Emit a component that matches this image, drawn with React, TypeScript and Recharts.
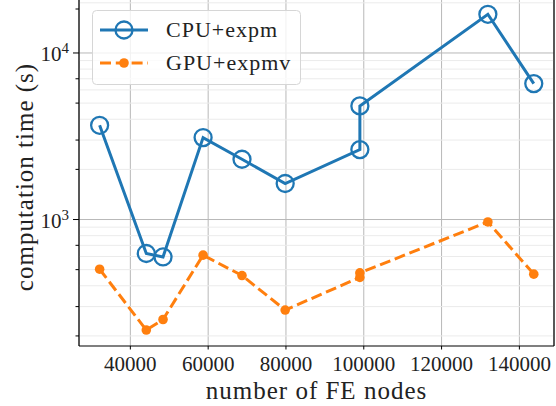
import React from 'react';
import { LineChart, Line, XAxis, YAxis, CartesianGrid, ReferenceLine, Legend, Label } from 'recharts';

// number of FE nodes (x) and timings in seconds
const nodes = [32100, 44100, 48400, 58700, 68700, 79800, 99000, 99000, 131900, 143700];
const cpuExpm = [3680, 625, 596, 3105, 2300, 1645, 2630, 4810, 17070, 6550];
const gpuExpmv = [503, 217, 251, 611, 461, 286, 449, 478, 967, 470];

const xTicks = [40000, 60000, 80000, 100000, 120000, 140000];
const yMajor = [1000, 10000];
const yMinor = [200, 300, 400, 500, 600, 700, 800, 900, 2000, 3000, 4000, 5000, 6000, 7000, 8000, 9000, 20000];

const xDomain = [26800, 148900];
const yDomain = [174, 20800];

const data = nodes.map((n, i) => ({ nodes: n, cpu: cpuExpm[i], gpu: gpuExpmv[i] }));

const FONT = '"Liberation Serif", "DejaVu Serif", serif';
const BLUE = '#1f77b4';
const ORANGE = '#ff7f0e';
const DASH = '11 4.8';

const seriesStyle: Record<string, { color: string; dash?: string; hollow: boolean }> = {
  cpu: { color: BLUE, hollow: true },
  gpu: { color: ORANGE, dash: DASH, hollow: false },
};

const YTick = (props: any) => {
  const { x, y, payload } = props;
  const v = payload.value;
  const major = yMajor.includes(v);
  const len = major ? 6 : 3.5;
  return (
    <g>
      <line x1={x - len} x2={x} y1={y} y2={y} stroke="#000" strokeWidth={1} />
      {major && (
        <text x={x - len - 4} y={y + 8} textAnchor="end" fontFamily={FONT} fontSize={21} fill="#222">
          10
          <tspan dy={-8} fontSize={15}>{Math.round(Math.log10(v))}</tspan>
        </text>
      )}
    </g>
  );
};

const LegendBox = (props: any) => {
  const items = props.payload || [];
  return (
    <svg width={209} height={75}>
      <rect x={0.5} y={0.5} width={208} height={74} rx={4} fill="rgba(255,255,255,0.8)" stroke="#d6d6d6" />
      {items.map((it: any, i: number) => {
        const st = seriesStyle[it.dataKey];
        const cy = 20 + 33 * i;
        return (
          <g key={it.value}>
            <line x1={8} x2={56} y1={cy} y2={cy} stroke={st.color} strokeWidth={3} strokeDasharray={st.dash} />
            {st.hollow ? (
              <circle cx={32} cy={cy} r={8.5} fill="none" stroke={st.color} strokeWidth={2.3} />
            ) : (
              <circle cx={32} cy={cy} r={4.8} fill={st.color} />
            )}
            <text x={74} y={cy + 7} fontFamily={FONT} fontSize={22} letterSpacing={1} fill="#222">
              {it.value}
            </text>
          </g>
        );
      })}
    </svg>
  );
};

export default function App() {
  return (
    <div style={{ position: 'absolute', left: 0, top: 0, width: 556, height: 406, background: '#fff' }}>
      <style>{'body{margin:0}'}</style>
      <LineChart width={556} height={406} data={data} margin={{ top: 0, right: 2, bottom: 0, left: 0 }}>
        <CartesianGrid horizontal={false} stroke="#b8b8b8" strokeWidth={1} />
        {yMinor.map((v) => (
          <ReferenceLine key={'mn' + v} y={v} stroke="#ebebeb" strokeWidth={1} />
        ))}
        {yMajor.map((v) => (
          <ReferenceLine key={'mj' + v} y={v} stroke="#b8b8b8" strokeWidth={1} />
        ))}
        <ReferenceLine x={xDomain[1]} stroke="#000" strokeWidth={1.2} />
        <XAxis
          dataKey="nodes"
          type="number"
          domain={xDomain}
          ticks={xTicks}
          allowDataOverflow
          height={60}
          tickSize={3.5}
          tickMargin={6.5}
          stroke="#000"
          axisLine={{ stroke: '#000', strokeWidth: 1.2 }}
          tick={{ fontFamily: FONT, fontSize: 21, fill: '#222' }}
        >
          <Label
            value="number of FE nodes"
            position="insideBottom"
            offset={7}
            style={{ fontFamily: FONT, fontSize: 25, letterSpacing: 1, fill: '#222' }}
          />
        </XAxis>
        <YAxis
          type="number"
          scale="log"
          domain={yDomain}
          ticks={[...yMinor, ...yMajor].sort((a, b) => a - b)}
          allowDataOverflow
          width={79}
          tickSize={0}
          tickMargin={0}
          tickLine={false}
          axisLine={{ stroke: '#000', strokeWidth: 1.2 }}
          tick={<YTick />}
          label={{
            content: (p: any) => {
              const vb = p.viewBox;
              const cx = vb.x + 33;
              const cy = vb.y + vb.height / 2 + 4;
              return (
                <text
                  x={cx}
                  y={cy}
                  transform={`rotate(-90, ${cx}, ${cy})`}
                  textAnchor="middle"
                  fontFamily={FONT}
                  fontSize={25}
                  letterSpacing={1}
                  fill="#222"
                >
                  computation time (s)
                </text>
              );
            },
          }}
        />
        <Legend
          layout="vertical"
          align="center"
          verticalAlign="middle"
          wrapperStyle={{ left: 92, top: 10, width: 209, height: 75 }}
          content={<LegendBox />}
        />
        <Line
          dataKey="cpu"
          name="CPU+expm"
          stroke={BLUE}
          strokeWidth={3}
          dot={{ r: 8.5, fill: 'none', stroke: BLUE, strokeWidth: 2.3 }}
          isAnimationActive={false}
        />
        <Line
          dataKey="gpu"
          name="GPU+expmv"
          stroke={ORANGE}
          strokeWidth={3}
          strokeDasharray={DASH}
          dot={{ r: 4.8, fill: ORANGE, stroke: 'none', strokeDasharray: '0' }}
          isAnimationActive={false}
        />
      </LineChart>
    </div>
  );
}
